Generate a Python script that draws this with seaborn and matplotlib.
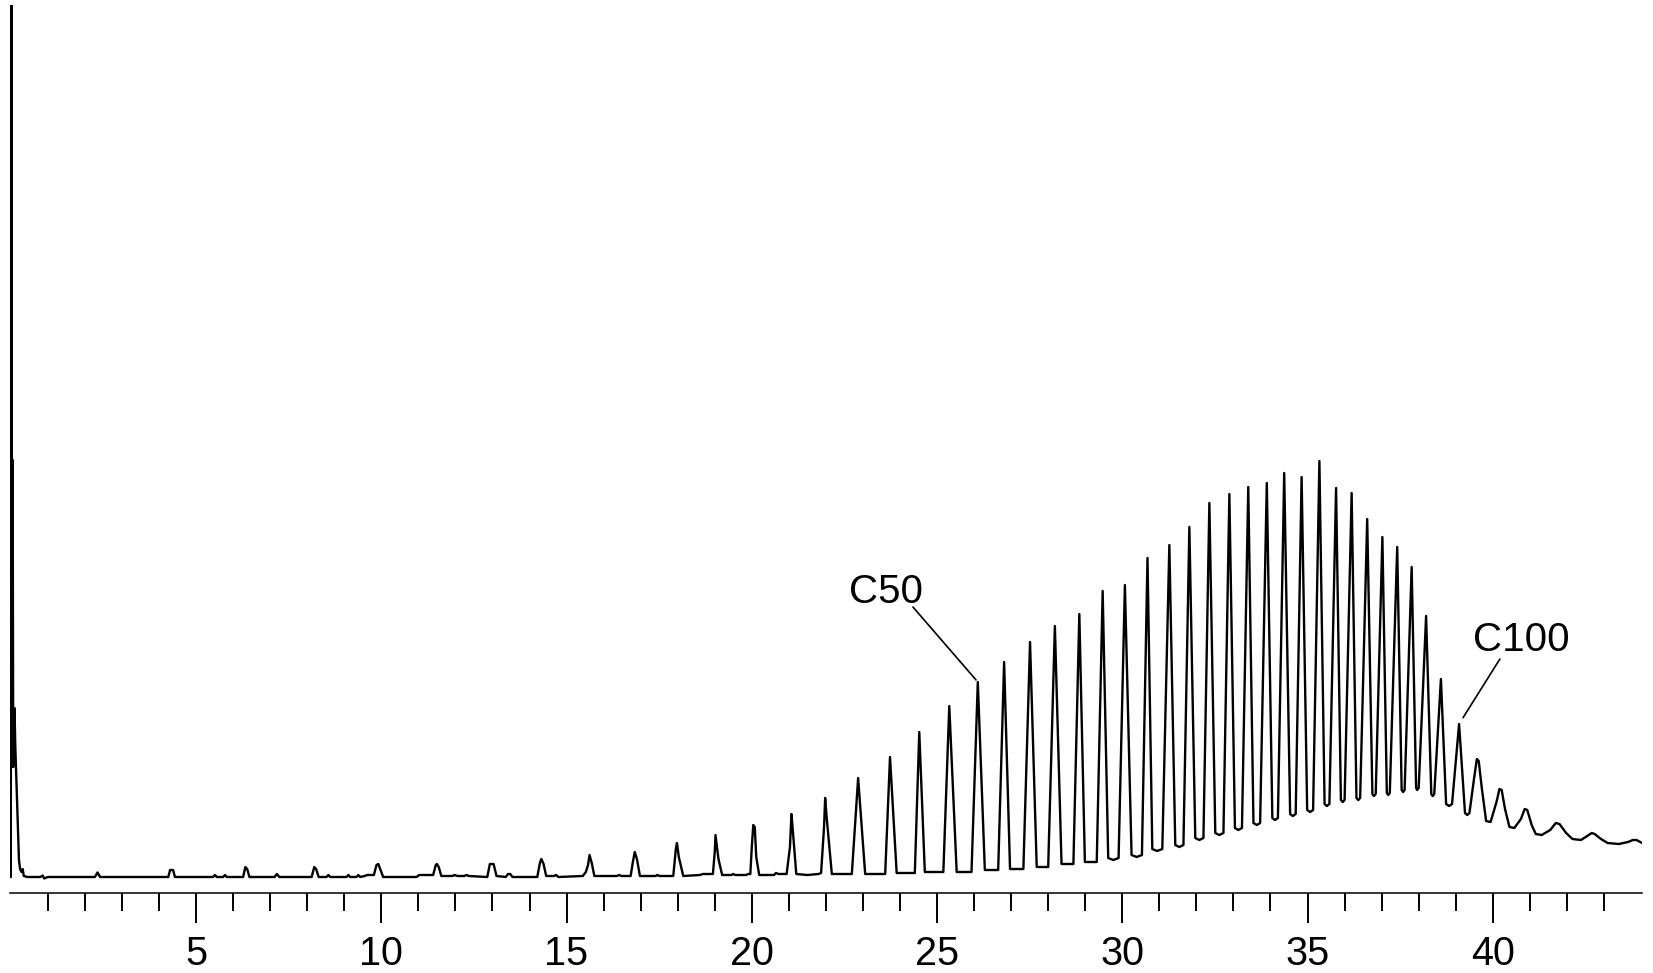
import matplotlib
matplotlib.use("Agg")
import matplotlib.pyplot as plt
from matplotlib.ticker import FixedLocator
import pandas as pd
import seaborn as sns

# Trace vertices: (retention time [min], detector response)
solvent = [(-0.03, 0), (0.0, 0), (0.015, 1500), (0.03, 110), (0.05, 417), (0.065, 110),
           (0.1, 169), (0.12, 132), (0.22, 17), (0.25, 8), (0.29, 5), (0.32, 8),
           (0.35, 1), (0.45, 0), (0.8, 0), (0.86, 1.5), (0.9, -1.5), (1.0, 0)]

early = [(2.27, 0), (2.34, 4.5), (2.41, 0),
         (4.25, 0), (4.3, 7), (4.38, 7), (4.43, 0),
         (5.46, 0), (5.51, 2), (5.56, 0), (5.73, 0), (5.78, 2), (5.83, 0),
         (6.27, 0), (6.33, 10), (6.38, 8), (6.44, 0),
         (7.12, 0), (7.18, 3), (7.25, 0),
         (8.12, 0), (8.19, 10), (8.24, 8), (8.31, 0),
         (8.52, 0), (8.57, 2), (8.62, 0), (9.06, 0), (9.11, 2), (9.16, 0),
         (9.33, 0), (9.38, 2), (9.43, 0), (9.55, 1), (9.62, 2),
         (9.8, 2), (9.87, 12), (9.92, 13), (9.97, 8), (10.05, 0),
         (10.95, 0), (11.02, 2), (11.1, 2), (11.3, 2),
         (11.4, 2), (11.47, 12), (11.5, 13), (11.55, 10), (11.62, 1),
         (11.92, 1), (11.98, 2), (12.05, 1), (12.24, 1), (12.3, 2), (12.36, 1),
         (12.86, 0), (12.93, 13), (13.03, 13), (13.11, 1),
         (13.36, 0), (13.42, 3), (13.48, 3), (13.54, 0),
         (14.21, 0), (14.28, 14), (14.32, 18), (14.38, 13), (14.45, 1),
         (14.66, 1), (14.72, 2), (14.78, 0),
         (15.44, 1), (15.52, 5), (15.58, 12), (15.62, 22), (15.68, 14), (15.75, 1),
         (16.36, 1), (16.42, 2), (16.48, 1),
         (16.73, 1), (16.79, 15), (16.84, 25), (16.9, 18), (16.98, 1),
         (17.4, 1), (17.45, 2), (17.5, 1),
         (17.88, 1), (17.95, 28), (17.98, 34), (18.03, 20), (18.15, 1),
         (18.6, 2), (18.68, 3), (18.78, 3),
         (18.95, 3), (19.0, 25), (19.02, 42), (19.06, 30), (19.1, 18), (19.2, 2),
         (19.45, 2), (19.5, 3), (19.55, 2), (19.85, 2), (19.9, 3),
         (19.96, 3), (20.0, 30), (20.04, 52), (20.08, 50), (20.12, 20), (20.2, 2),
         (20.6, 2), (20.65, 4), (20.72, 3), (20.85, 3),
         (20.94, 3), (21.03, 30), (21.07, 63), (21.1, 50), (21.2, 3),
         (21.5, 2), (21.8, 3)]

middle = [(21.87, 4), (21.95, 50), (21.98, 79), (22.02, 60), (22.16, 3),
          (22.7, 3), (22.87, 99), (23.06, 3),
          (23.6, 3), (23.73, 120), (23.91, 4),
          (24.4, 4), (24.52, 145), (24.67, 5),
          (25.17, 5), (25.33, 171), (25.53, 5),
          (25.93, 5), (26.1, 195), (26.29, 7),
          (26.65, 7), (26.81, 215), (26.97, 8),
          (27.33, 8), (27.51, 235), (27.69, 10),
          (28.0, 10), (28.18, 251), (28.36, 13),
          (28.68, 13), (28.84, 263), (28.99, 15),
          (29.31, 15), (29.47, 286)]

dense = [(29.62, 19), (29.76, 17), (29.9, 19), (30.07, 292),
         (30.25, 22), (30.39, 20), (30.53, 22), (30.68, 319),
         (30.81, 28), (30.94, 26), (31.08, 28), (31.27, 332),
         (31.43, 32), (31.54, 30), (31.65, 32), (31.81, 350),
         (31.97, 39), (32.08, 37), (32.19, 39), (32.35, 374),
         (32.51, 44), (32.62, 42), (32.73, 44), (32.89, 383),
         (33.04, 49), (33.13, 47), (33.23, 49), (33.4, 390),
         (33.54, 54), (33.63, 52), (33.72, 54), (33.9, 394),
         (34.05, 59), (34.12, 57), (34.2, 59), (34.37, 404),
         (34.53, 63), (34.6, 61), (34.68, 63), (34.84, 400),
         (34.99, 67), (35.07, 65), (35.15, 67), (35.32, 416),
         (35.46, 73), (35.52, 71), (35.59, 73), (35.77, 389),
         (35.9, 77), (35.95, 75), (36.0, 77), (36.19, 384),
         (36.32, 79), (36.37, 77), (36.42, 79), (36.61, 358),
         (36.75, 83), (36.79, 81), (36.84, 83), (37.02, 340),
         (37.14, 84), (37.18, 82), (37.22, 84), (37.42, 330),
         (37.54, 87), (37.58, 85), (37.62, 87), (37.81, 310),
         (37.93, 89), (37.96, 87), (38.0, 89), (38.2, 261),
         (38.34, 83), (38.38, 81), (38.42, 83), (38.6, 198),
         (38.74, 73), (38.82, 71), (38.9, 73), (39.09, 153),
         (39.25, 64), (39.31, 62), (39.37, 64)]

tail = [(39.5, 100), (39.57, 118), (39.62, 116), (39.7, 90),
        (39.82, 56), (39.94, 55),
        (40.1, 75), (40.18, 88), (40.24, 87), (40.33, 68),
        (40.45, 50), (40.58, 49),
        (40.76, 58), (40.86, 68), (40.93, 67), (41.05, 52),
        (41.16, 43), (41.32, 42),
        (41.55, 47), (41.7, 54), (41.8, 53), (41.98, 44),
        (42.15, 38), (42.38, 37),
        (42.55, 41), (42.67, 44), (42.75, 43), (42.92, 38),
        (43.1, 34), (43.4, 33),
        (43.65, 35), (43.78, 37), (43.88, 37), (44.03, 34)]

labels = ["C50", "C100"]
labelled_rt = [26.1, 39.09]
labelled_height = [195, 153]

major_ticks = [5, 10, 15, 20, 25, 30, 35, 40]
minor_ticks = [t for t in range(1, 44) if t % 5]

trace = solvent + early + middle + dense + tail
df = pd.DataFrame(trace, columns=["rt", "signal"])

sns.set_style("white")
plt.rcParams["font.family"] = ["Liberation Sans", "DejaVu Sans"]

fig = plt.figure(figsize=(16.53, 9.73), dpi=100)
ax = fig.add_axes([9.7 / 1653, 80 / 973, 1632.4 / 1653, 888 / 973])

sns.lineplot(data=df, x="rt", y="signal", sort=False, estimator=None,
             color="black", lw=1.7, ax=ax)

ax.set_xlim(-0.03, 44.03)
ax.set_ylim(-16, 872)
ax.set_xlabel("")
ax.set_ylabel("")
ax.set_yticks([])

for side in ["left", "top", "right"]:
    ax.spines[side].set_visible(False)
ax.spines["bottom"].set_linewidth(1.1)
ax.spines["bottom"].set_color("black")

ax.xaxis.set_major_locator(FixedLocator(major_ticks))
ax.xaxis.set_minor_locator(FixedLocator(minor_ticks))
ax.set_xticklabels([str(t) for t in major_ticks])
ax.tick_params(axis="x", which="both", bottom=True, direction="out",
               color="black", labelcolor="black")
ax.tick_params(axis="x", which="major", length=21.5, width=1.4, labelsize=28.5, pad=9)
ax.tick_params(axis="x", which="minor", length=13, width=1.4)

# peak labels with leader lines
label_offsets = [(-66, 65), (45, 60.5)]
line_offsets = [(-46.7, 54), (29.4, 46.8)]
line_shrink = [2, 5.4]
for lab, rt, h, to, lo, sh in zip(labels, labelled_rt, labelled_height,
                                  label_offsets, line_offsets, line_shrink):
    ax.annotate("", xy=(rt, h), xytext=lo, textcoords="offset points",
                arrowprops=dict(arrowstyle="-", color="black", lw=1.2,
                                shrinkA=0, shrinkB=sh))
    ax.annotate(lab, xy=(rt, h), xytext=to, textcoords="offset points",
                ha="center", va="center", fontsize=29, color="black")

fig.savefig("out.png", dpi=100)
